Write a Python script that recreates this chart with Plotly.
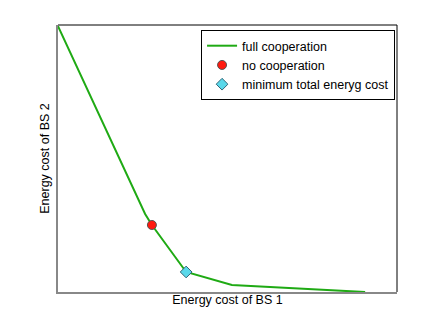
import plotly.graph_objects as go

# curve (normalised costs)
cost_bs1 = [0.0, 0.257, 0.277, 0.378, 0.513, 0.906]
cost_bs2 = [0.996, 0.292, 0.251, 0.075, 0.026, 0.0]

no_coop_x = [0.277]
no_coop_y = [0.251]
min_total_x = [0.378]
min_total_y = [0.075]

fig = go.Figure()

fig.add_trace(go.Scatter(x=cost_bs1, y=cost_bs2, mode='lines', name='full cooperation',
                         line=dict(color='#1faa14', width=2)))
fig.add_trace(go.Scatter(x=no_coop_x, y=no_coop_y, mode='markers', name='no cooperation',
                         marker=dict(symbol='circle', size=9, color='#ff1a0f',
                                     line=dict(color='#555555', width=1))))
fig.add_trace(go.Scatter(x=min_total_x, y=min_total_y, mode='markers', name='minimum total eneryg cost',
                         marker=dict(symbol='diamond', size=9, color='#5ad8ea',
                                     line=dict(color='#336677', width=1))))

# black top / right box edges
fig.add_shape(type='line', xref='paper', yref='paper', x0=0, x1=1, y0=1, y1=1,
              line=dict(color='black', width=1))
fig.add_shape(type='line', xref='paper', yref='paper', x0=1, x1=1, y0=0, y1=1,
              line=dict(color='black', width=1))

fig.update_layout(
    width=436, height=328,
    margin=dict(l=50, r=47, t=17, b=44),
    plot_bgcolor='white', paper_bgcolor='white',
    font=dict(family='Liberation Sans, Arial', size=12.5, color='black'),
    xaxis=dict(range=[0, 1], showticklabels=False, ticks='', showgrid=False, zeroline=False,
               showline=True, linecolor='#888888', linewidth=2,
               title=dict(text='Energy cost of BS 1', standoff=2, font=dict(size=12.5))),
    yaxis=dict(range=[0, 1], showticklabels=False, ticks='', showgrid=False, zeroline=False,
               showline=True, linecolor='#888888', linewidth=2,
               title=dict(text='Energy cost of BS 2', standoff=4, font=dict(size=12.5))),
    legend=dict(x=0.422, y=0.981, xanchor='left', yanchor='top',
                bordercolor='black', borderwidth=1, bgcolor='white',
                font=dict(size=12.5), itemwidth=30, tracegroupgap=0),
    showlegend=True,
)

fig.write_html("out.html")
